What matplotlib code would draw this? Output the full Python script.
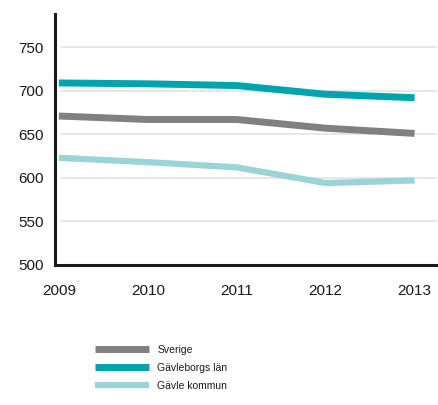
import matplotlib
matplotlib.use("Agg")
import matplotlib.pyplot as plt

years = [2009, 2010, 2011, 2012, 2013]
sverige = [671, 667, 667, 657, 651]
gavleborg = [709, 708, 706, 696, 692]
gavle = [623, 618, 612, 594, 597]
labels = ["Sverige", "Gävleborgs län", "Gävle kommun"]
yticks = [500, 550, 600, 650, 700, 750]

plt.rcParams['font.family'] = ['Liberation Sans', 'DejaVu Sans']

fig = plt.figure(figsize=(4.39, 4.05), dpi=100)
ax = fig.add_axes([0.125, 0.346, 0.87, 0.619])

ax.plot(years, sverige, color='#7e8082', lw=5, solid_capstyle='butt', solid_joinstyle='round', label=labels[0])
ax.plot(years, gavleborg, color='#00a4ae', lw=5, solid_capstyle='butt', solid_joinstyle='round', label=labels[1])
ax.plot(years, gavle, color='#9ad3d8', lw=4.5, solid_capstyle='butt', solid_joinstyle='round', label=labels[2])

ax.set_xlim(2008.955, 2013.25)
ax.set_ylim(500, 788)
ax.set_yticks(yticks)
ax.set_xticks(years)
ax.set_xticklabels([str(y) for y in years])
for y in yticks[1:]:
    ax.axhline(y, xmin=0.015, xmax=1, color='#e3e3e3', lw=1.2, zorder=0)

for s in ['top', 'right']:
    ax.spines[s].set_visible(False)
for s in ['left', 'bottom']:
    ax.spines[s].set_linewidth(2.2)
    ax.spines[s].set_color('#1a1a1a')
ax.tick_params(axis='both', length=0, labelsize=11, colors='#1a1a1a')
ax.tick_params(axis='y', pad=8)
ax.tick_params(axis='x', pad=14)

fig.legend(loc='upper left', bbox_to_anchor=(0.216, 0.148), bbox_transform=fig.transFigure,
           frameon=False, fontsize=7.5, handlelength=5.2, handletextpad=0.8, labelspacing=0.75,
           borderaxespad=0, borderpad=0, labelcolor='#1a1a1a')
fig.savefig('out.png', dpi=100)
